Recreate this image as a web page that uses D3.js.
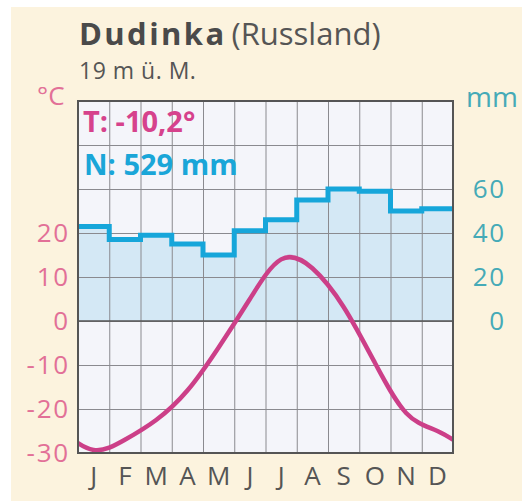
<!DOCTYPE html>
<html lang="de">
<head>
<meta charset="utf-8">
<title>Dudinka</title>
<script src="https://cdn.jsdelivr.net/npm/d3@7"></script>
<style>
  body { margin: 0; background: #fff; }
  svg text { font-family: "Open Sans", "Noto Sans", sans-serif; }
</style>
</head>
<body>
<div id="chart"></div>
<script>
"use strict"

// Daten
var monate = ["J", "F", "M", "A", "M", "J", "J", "A", "S", "O", "N", "D"];
var temperatur = [-29.3, -27, -22.5, -15.8, -6, 5, 14, 12, 3.2, -9.5, -20.9, -25];
var niederschlag = [43, 37, 39, 35, 30, 41, 46, 55, 60, 59, 50, 51];
var tempTicks = [-30, -20, -10, 0, 10, 20];
var nsTicks = [0, 20, 40, 60];
var gitterTicks = [-20, -10, 0, 10, 20, 30, 40];

var breite = 522, hoehe = 501;
var links = 78, rechts = 453, oben = 101, unten = 453;

var svg = d3.select("#chart").append("svg")
  .attr("width", breite)
  .attr("height", hoehe);

// Hintergrund
svg.append("rect").attr("x", 11).attr("y", 7).attr("width", breite).attr("height", hoehe)
  .attr("fill", "#fcf3de");

var x = d3.scaleLinear().domain([0, 12]).range([links, rechts]);
var xBand = d3.scaleBand().domain(d3.range(12)).range([links, rechts]);
var yT = d3.scaleLinear().domain([-30, 50]).range([unten, oben]);
var yN = d3.scaleLinear().domain([0, 100]).range([yT(0), oben]);

svg.append("rect")
  .attr("x", links).attr("y", oben)
  .attr("width", rechts - links).attr("height", unten - oben)
  .attr("fill", "#f4f5fa");

// Niederschlag als Treppe
var stufen = [];
niederschlag.forEach(function(v, i) {
  stufen.push({m: i, v: v});
  stufen.push({m: i + 1, v: v});
});

svg.append("path")
  .datum(stufen)
  .attr("fill", "#d4e8f5")
  .attr("d", d3.area().x(d => x(d.m)).y0(yN(0)).y1(d => yN(d.v)));

// Gitter
svg.append("g")
  .attr("transform", "translate(" + links + ",0)")
  .call(d3.axisLeft(yT).tickValues(gitterTicks).tickSize(-(rechts - links)).tickFormat(""))
  .call(g => g.select(".domain").remove())
  .call(g => g.selectAll("line").attr("stroke", "#8a8a8f").attr("stroke-width", 1));

svg.append("g")
  .attr("transform", "translate(0," + unten + ")")
  .call(d3.axisBottom(x).tickValues(d3.range(1, 12)).tickSize(-(unten - oben)).tickFormat(""))
  .call(g => g.select(".domain").remove())
  .call(g => g.selectAll("line").attr("stroke", "#8a8a8f").attr("stroke-width", 1));

svg.append("line")
  .attr("x1", links).attr("x2", rechts)
  .attr("y1", yT(0)).attr("y2", yT(0))
  .attr("stroke", "#555").attr("stroke-width", 1.6);

svg.append("path")
  .datum(stufen)
  .attr("fill", "none")
  .attr("stroke", "#16a6da")
  .attr("stroke-width", 5)
  .attr("stroke-linejoin", "miter")
  .attr("d", d3.line().x(d => x(d.m)).y(d => yN(d.v)));

// Temperatur
svg.append("clipPath").attr("id", "clip")
  .append("rect")
  .attr("x", links).attr("y", oben)
  .attr("width", rechts - links).attr("height", unten - oben);

var tempPunkte = temperatur.map((t, i) => ({m: i + 0.5, t: t}));
tempPunkte.unshift({m: -0.5, t: temperatur[11]});
tempPunkte.push({m: 12.5, t: temperatur[0]});

svg.append("path")
  .datum(tempPunkte)
  .attr("clip-path", "url(#clip)")
  .attr("fill", "none")
  .attr("stroke", "#cc3f88")
  .attr("stroke-width", 4.5)
  .attr("d", d3.line().curve(d3.curveNatural).x(d => x(d.m)).y(d => yT(d.t)));

// Rahmen
svg.append("rect")
  .attr("x", links).attr("y", oben)
  .attr("width", rechts - links).attr("height", unten - oben)
  .attr("fill", "none").attr("stroke", "#555").attr("stroke-width", 2);

// Achsenbeschriftungen
svg.append("g")
  .attr("transform", "translate(" + (links - 8) + ",0)")
  .call(d3.axisLeft(yT).tickValues(tempTicks).tickSize(0).tickPadding(0).tickFormat(d => String(d)))
  .call(g => g.select(".domain").remove())
  .call(g => g.selectAll("text")
    .attr("fill", "#e27097")
    .attr("font-size", 26)
    .attr("letter-spacing", 1.8)
    .attr("font-family", "'Open Sans', sans-serif"));

svg.append("g")
  .attr("transform", "translate(506,0)")
  .call(d3.axisLeft(yN).tickValues(nsTicks).tickSize(0).tickPadding(0).tickFormat(d => String(d)))
  .call(g => g.select(".domain").remove())
  .call(g => g.selectAll("text")
    .attr("fill", "#45aab7")
    .attr("font-size", 26)
    .attr("letter-spacing", 1.8)
    .attr("font-family", "'Open Sans', sans-serif"));

svg.append("g")
  .attr("transform", "translate(0," + (unten + 14) + ")")
  .call(d3.axisBottom(xBand).tickSize(0).tickPadding(0).tickFormat(i => monate[i]))
  .call(g => g.select(".domain").remove())
  .call(g => g.selectAll("text")
    .attr("fill", "#555")
    .attr("font-size", 26)
    .attr("font-family", "'Open Sans', sans-serif"));

// Texte
svg.append("text").attr("x", 79).attr("y", 45)
  .attr("fill", "#4a4a4a").attr("font-size", 31)
  .html('<tspan font-weight="bold" letter-spacing="2.4">Dudinka</tspan><tspan dx="5" fill="#555">(Russland)</tspan>');

svg.append("text").attr("x", 79).attr("y", 79)
  .attr("fill", "#555").attr("font-size", 23)
  .attr("letter-spacing", 0.5)
  .text("19 m ü. M.");

svg.append("text").attr("x", 37).attr("y", 105)
  .attr("fill", "#e27097").attr("font-size", 26)
  .text("°C");

svg.append("text").attr("x", 466).attr("y", 107)
  .attr("fill", "#45aab7").attr("font-size", 28)
  .text("mm");

svg.append("text").attr("x", 83).attr("y", 132)
  .attr("fill", "#d6428c").attr("font-size", 29).attr("font-weight", "bold")
  .text("T: -10,2°");

svg.append("text").attr("x", 84).attr("y", 175)
  .attr("fill", "#1aa6d8").attr("font-size", 29).attr("font-weight", "bold")
  .text("N: 529 mm");
</script>
</body>
</html>
